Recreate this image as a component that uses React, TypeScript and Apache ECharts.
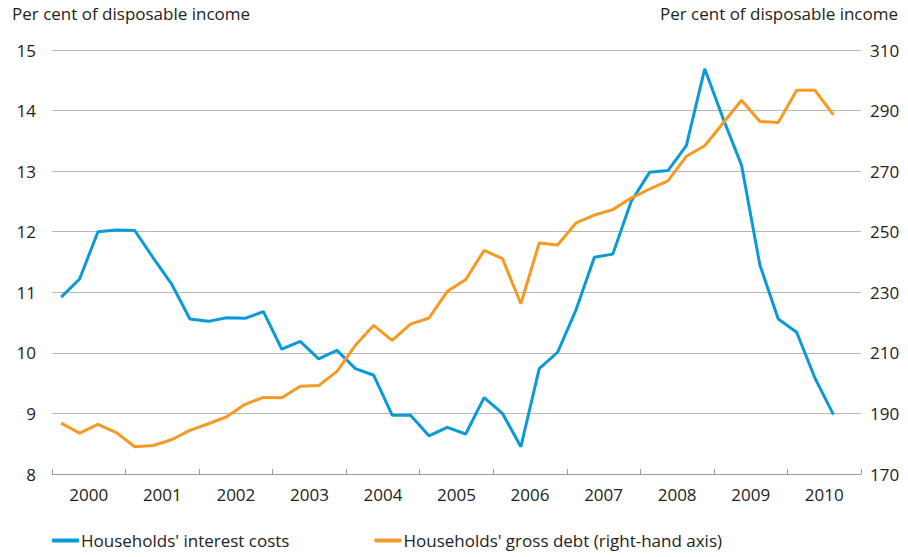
import React, { useEffect, useRef } from "react";
import * as echarts from "echarts";

const years = ["2000", "2001", "2002", "2003", "2004", "2005", "2006", "2007", "2008", "2009", "2010"];
const quarters: string[] = [];
years.forEach((y) => ["Q1", "Q2", "Q3", "Q4"].forEach((q) => quarters.push(y + q)));

const interestCosts = [
  10.92, 11.22, 12.0, 12.03, 12.02, 11.57, 11.14, 10.56,
  10.52, 10.58, 10.57, 10.68, 10.06, 10.19, 9.9, 10.04,
  9.74, 9.63, 8.97, 8.97, 8.63, 8.77, 8.66, 9.26,
  9.0, 8.45, 9.74, 10.01, 10.71, 11.58, 11.63, 12.5,
  12.98, 13.01, 13.42, 14.69, 13.87, 13.1, 11.45, 10.56,
  10.34, 9.58, 8.98,
];
const grossDebt = [
  186.8, 183.5, 186.4, 183.7, 179.0, 179.4, 181.3, 184.4,
  186.6, 188.9, 193.0, 195.3, 195.2, 199.0, 199.2, 203.9,
  212.5, 219.1, 214.1, 219.5, 221.5, 230.3, 234.2, 243.8,
  241.1, 226.2, 246.3, 245.6, 252.9, 255.5, 257.3, 261.1,
  264.1, 266.8, 274.9, 278.4, 285.9, 293.4, 286.4, 286.1,
  296.7, 296.7, 288.6,
];

const axisTitle = "Per cent of disposable income";
const FONT = "'Open Sans', sans-serif";
const FS = 17;
const BLUE = "#0a9ad6";
const ORANGE = "#f59a23";

export default function App() {
  const ref = useRef<HTMLDivElement>(null);
  useEffect(() => {
    if (!ref.current) return;
    const chart = echarts.init(ref.current, undefined, { renderer: "svg" });
    chart.setOption({
      animation: false,
      textStyle: { fontFamily: FONT },
      grid: { left: 52, right: 47, top: 50, bottom: 83, containLabel: false },
      graphic: [
        { type: "text", left: 12, top: 5, style: { text: axisTitle, fontSize: FS, fontFamily: FONT, fill: "#222" } },
        { type: "text", right: 10, top: 5, style: { text: axisTitle, fontSize: FS, fontFamily: FONT, fill: "#222" } },
      ],
      legend: {
        left: 52,
        top: 532,
        padding: 0,
        itemWidth: 27,
        itemHeight: 4,
        itemGap: 85,
        icon: "roundRect",
        textStyle: { fontSize: FS, fontFamily: FONT, color: "#222", padding: [0, 0, 0, -3] },
        data: [
          { name: "Households' interest costs", itemStyle: { color: BLUE } },
          { name: "Households' gross debt (right-hand axis)", itemStyle: { color: ORANGE } },
        ],
      },
      xAxis: [
        { type: "category", data: quarters, boundaryGap: true, show: false },
        {
          type: "category",
          data: years,
          position: "bottom",
          boundaryGap: true,
          axisLine: { show: true, lineStyle: { color: "#9a9a9a", width: 1 } },
          axisTick: { show: true, inside: true, length: 5, lineStyle: { color: "#9a9a9a" } },
          axisLabel: { fontSize: FS, fontFamily: FONT, color: "#222", margin: 12 },
          splitLine: { show: false },
        },
      ],
      yAxis: [
        {
          type: "value",
          min: 8,
          max: 15,
          interval: 1,
          axisLine: { show: false },
          axisTick: { show: false },
          axisLabel: { fontSize: FS, fontFamily: FONT, color: "#222", margin: 16 },
          splitLine: { lineStyle: { color: "#b8b8b8", width: 1 } },
        },
        {
          type: "value",
          min: 170,
          max: 310,
          interval: 20,
          position: "right",
          axisLine: { show: false },
          axisTick: { show: false },
          axisLabel: { fontSize: FS, fontFamily: FONT, color: "#222", margin: 9 },
          splitLine: { show: false },
        },
      ],
      series: [
        {
          name: "Households' interest costs",
          type: "line",
          xAxisIndex: 0,
          yAxisIndex: 0,
          data: interestCosts,
          showSymbol: false,
          lineStyle: { color: BLUE, width: 3 },
          itemStyle: { color: BLUE },
        },
        {
          name: "Households' gross debt (right-hand axis)",
          type: "line",
          xAxisIndex: 0,
          yAxisIndex: 1,
          data: grossDebt,
          showSymbol: false,
          lineStyle: { color: ORANGE, width: 3 },
          itemStyle: { color: ORANGE },
        },
      ],
    });
    return () => chart.dispose();
  }, []);
  return <div ref={ref} style={{ width: 908, height: 557, position: "absolute", left: 0, top: 0 }} />;
}
